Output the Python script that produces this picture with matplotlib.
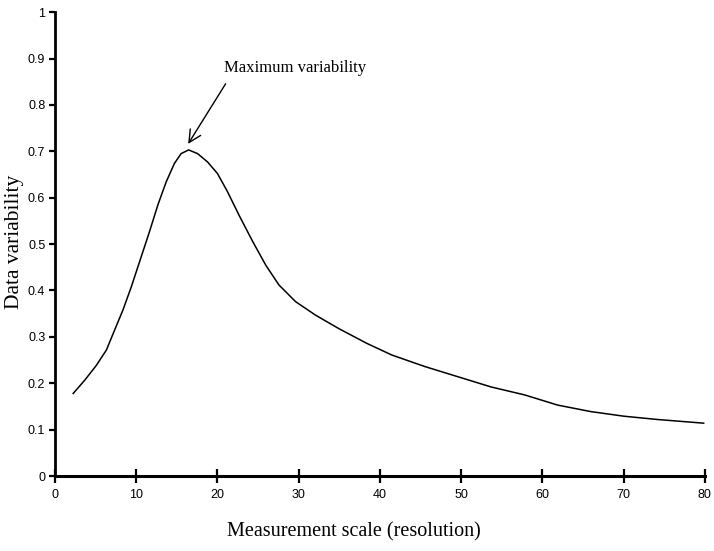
import matplotlib
matplotlib.use("Agg")
import matplotlib.pyplot as plt

# curve
scale = [2.24, 3.68, 5.11, 6.34, 7.35, 8.37, 9.40, 10.21, 11.64, 12.66, 13.69,
         14.71, 15.53, 16.46, 17.56, 18.79, 20.01, 21.24, 22.67, 24.30, 25.94,
         27.57, 29.62, 32.07, 34.93, 38.40, 41.46, 45.55, 49.63, 53.71, 57.81,
         61.89, 65.97, 70.06, 74.14, 79.87]
variability = [0.178, 0.207, 0.239, 0.272, 0.315, 0.358, 0.408, 0.451, 0.527,
               0.584, 0.634, 0.674, 0.695, 0.703, 0.695, 0.677, 0.652, 0.613,
               0.562, 0.507, 0.455, 0.412, 0.376, 0.347, 0.318, 0.286, 0.261,
               0.236, 0.214, 0.192, 0.175, 0.153, 0.139, 0.129, 0.122, 0.114]
xticks = [0, 10, 20, 30, 40, 50, 60, 70, 80]
yticks = [0, 0.1, 0.2, 0.3, 0.4, 0.5, 0.6, 0.7, 0.8, 0.9, 1]
ylabels = ["0", "0.1", "0.2", "0.3", "0.4", "0.5", "0.6", "0.7", "0.8", "0.9", "1"]

serif = ["Liberation Serif", "DejaVu Serif"]
narrow = ["Liberation Sans Narrow", "Liberation Sans", "DejaVu Sans"]

fig = plt.figure(figsize=(7.14, 5.51), dpi=100)
ax = fig.add_axes([0.077, 0.136, 0.910, 0.842])

ax.plot(scale, variability, color="black", lw=1.1, solid_joinstyle="round")

ax.set_xlim(0, 80)
ax.set_ylim(0, 1)
ax.spines["top"].set_visible(False)
ax.spines["right"].set_visible(False)
ax.spines["left"].set_linewidth(2)
ax.spines["bottom"].set_linewidth(2.2)

ax.set_xticks(xticks)
ax.set_xticklabels([str(v) for v in xticks], family=narrow, fontsize=9)
ax.set_yticks(yticks)
ax.set_yticklabels(ylabels, family=narrow, fontsize=9)
ax.tick_params(axis="x", direction="inout", length=10, width=1.6, pad=4)
ax.tick_params(axis="y", direction="out", length=4, width=1.6, pad=3)

ax.set_xlabel("Measurement scale (resolution)", family=serif, fontsize=14.5)
ax.xaxis.set_label_coords(0.46, -0.1)
ax.set_ylabel("Data variability", family=serif, fontsize=15.5)
ax.yaxis.set_label_coords(-0.047, 0.505)

ax.annotate("Maximum variability", xy=(16.4, 0.716), xytext=(20.8, 0.879),
            family=serif, fontsize=12, ha="left", va="center",
            arrowprops=dict(arrowstyle="->", color="black", lw=1,
                            mutation_scale=22, shrinkA=4, shrinkB=0,
                            relpos=(0.045, 0)))

fig.savefig("out.png", dpi=100)
